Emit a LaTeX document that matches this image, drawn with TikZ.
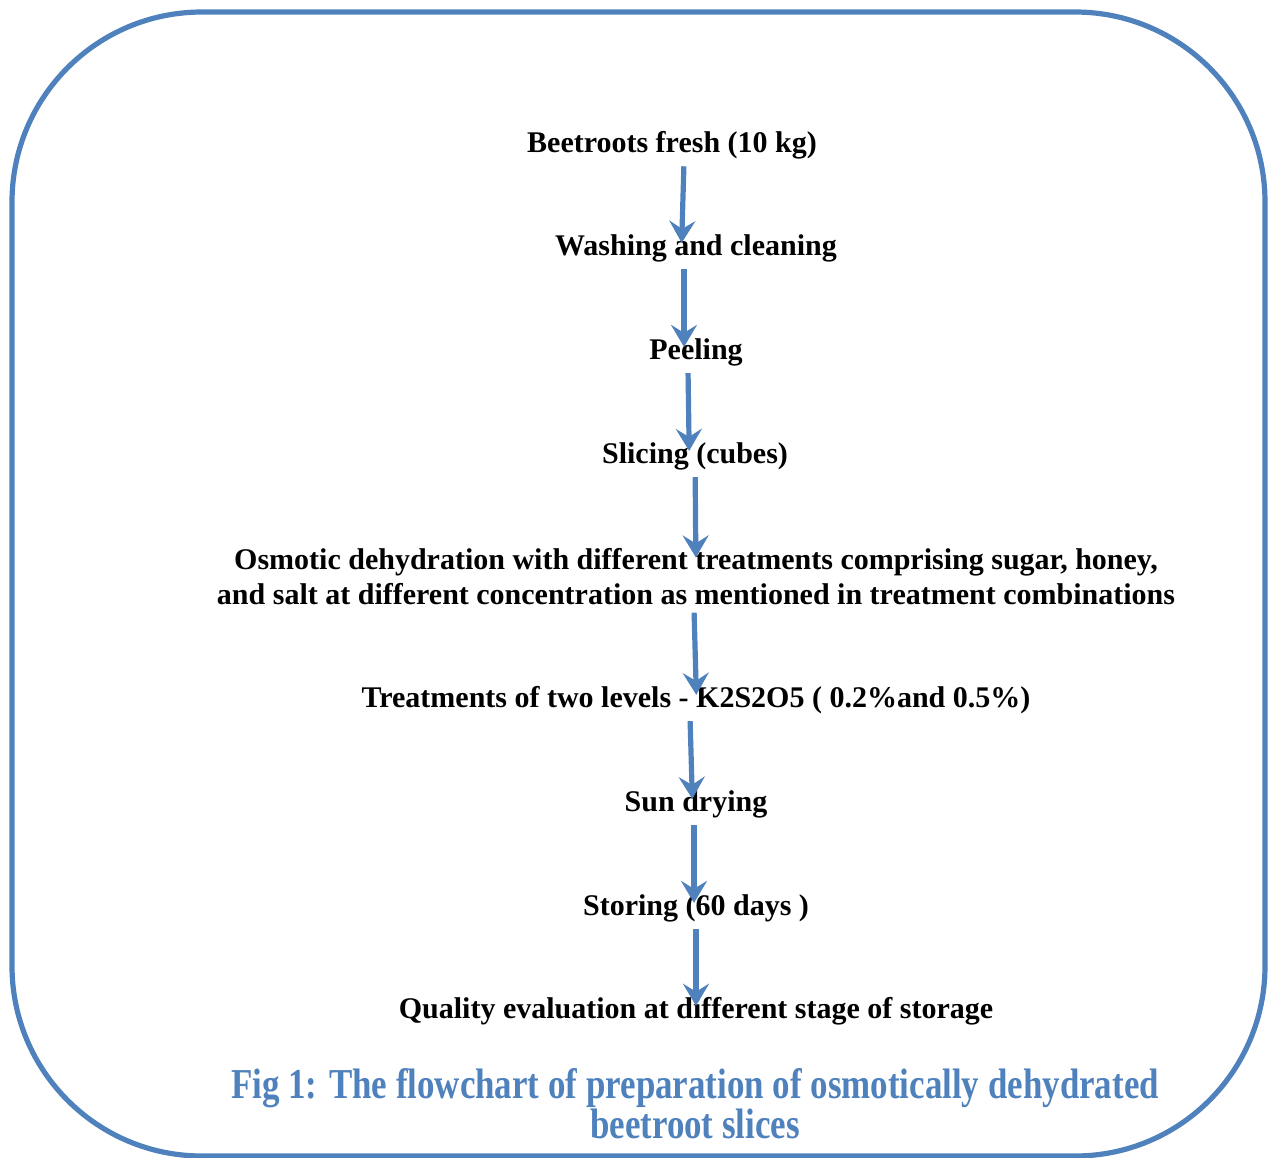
\documentclass[tikz,border=0pt]{standalone}
\usepackage{fontspec}
\setmainfont{Liberation Serif}
\newfontfamily\capfont[FakeStretch=0.82]{Liberation Serif}
\usepackage{xcolor}
\usetikzlibrary{arrows.meta,positioning}
\definecolor{flowblue}{HTML}{4F81BD}

\begin{document}
\begin{tikzpicture}[
    x=0.5pt, y=-0.5pt,
    stage/.style={font=\fontsize{15}{17.5}\selectfont\bfseries, align=center, inner sep=1.5pt},
    flow/.style={-{Stealth[length=11pt, width=13pt, inset=4pt]}, line width=2.6pt, draw=flowblue, shorten >=-6pt, shorten <=2pt},
    caption/.style={font=\capfont\fontsize{21.3}{20}\selectfont\bfseries, text=flowblue, align=center}
]
\useasboundingbox (0,0) rectangle (1268,1157);

% outer frame
\draw[flowblue, line width=2.6pt, rounded corners=95pt] (12,12) rectangle (1265,1156);

% process stages
\node[stage] (fresh) at (672,145) {Beetroots fresh (10 kg)};
\node[stage] (wash) at (696,248) {Washing and cleaning};
\node[stage] (peel) at (696,352) {Peeling};
\node[stage] (slice) at (695,456) {Slicing (cubes)};
\node[stage] (osmo) at (696,577) {Osmotic dehydration with different treatments comprising sugar, honey,\\and salt at different concentration as mentioned in treatment combinations};
\node[stage] (treat) at (696,700) {Treatments of two levels - K2S2O5 ( 0.2\%and 0.5\%)};
\node[stage] (sun) at (696,804) {Sun drying};
\node[stage] (store) at (696,908) {Storing (60 days )};
\node[stage] (quality) at (696,1011) {Quality evaluation at different stage of storage};

% caption
\node[caption] (fig) at (695,1104) {Fig 1: The flowchart of preparation of osmotically dehydrated\\beetroot slices};

% arrows
\draw[flow] ([xshift=6pt]fresh.south) -- ([xshift=-7pt]wash.north);
\draw[flow] ([xshift=-6pt]wash.south) -- ([xshift=-6pt]peel.north);
\draw[flow] ([xshift=-4pt]peel.south) -- ([xshift=-3pt]slice.north);
\draw[flow] (slice) -- (osmo);
\draw[flow] ([xshift=-1pt]osmo.south) -- (treat.north);
\draw[flow] ([xshift=-3pt]treat.south) -- ([xshift=-2pt]sun.north);
\draw[flow] ([xshift=-1pt]sun.south) -- ([xshift=-1pt]store.north);
\draw[flow] (store) -- (quality);

\end{tikzpicture}
\end{document}
